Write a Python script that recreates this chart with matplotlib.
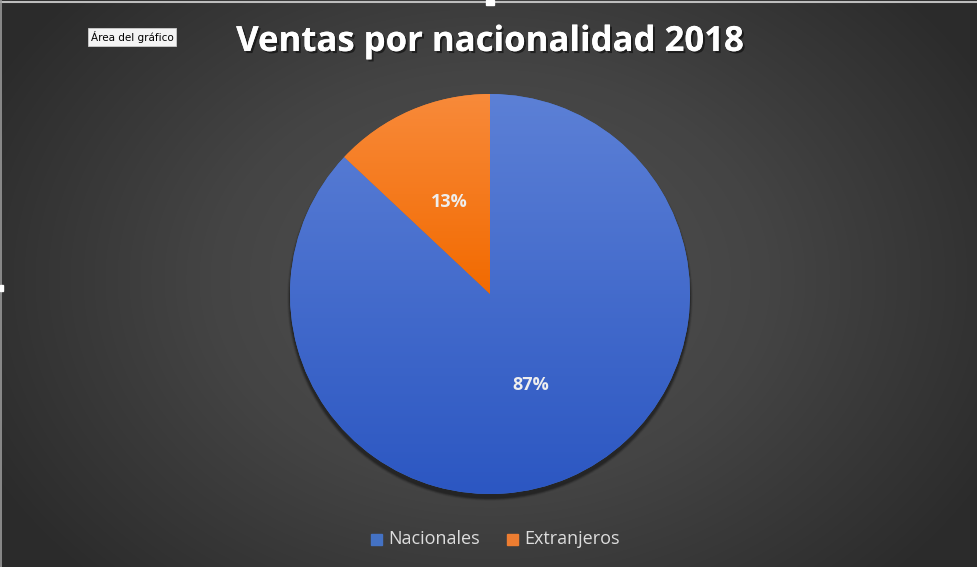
import numpy as np
import matplotlib
matplotlib.use("Agg")
import matplotlib.pyplot as plt
from matplotlib.colors import LinearSegmentedColormap
from matplotlib.patches import Circle, Rectangle
import matplotlib.patheffects as pe

categories = ["Nacionales", "Extranjeros"]
values = [87, 13]
colors_top = ["#5c80d6", "#f88a3a"]
colors_bottom = ["#2c57c2", "#f26a00"]
legend_colors = ["#4472c4", "#ed7d31"]
title = "Ventas por nacionalidad 2018"
tag = "Área del gráfico"

W, H = 978, 567
fig = plt.figure(figsize=(W / 100, H / 100), dpi=100)
ax = fig.add_axes([0, 0, 1, 1])
ax.set_xlim(0, W)
ax.set_ylim(0, H)
ax.axis("off")

# radial gradient background
yy, xx = np.mgrid[0:H, 0:W]
cx, cy = 490, H - 280
d = np.sqrt(((xx - cx) / 560.0) ** 2 + ((yy - cy) / 420.0) ** 2)
d = np.clip(d, 0, 1)
bg_cmap = LinearSegmentedColormap.from_list("bg", ["#525252", "#444444", "#2c2c2c"])
ax.imshow(d, cmap=bg_cmap, extent=[0, W, 0, H], origin="lower", zorder=0, aspect="auto")

# thin frame on top/left and selection handles
ax.plot([0, W], [H - 2, H - 2], color="#bdbdbd", lw=1.5, zorder=1)
ax.plot([1, 1], [0, H], color="#9a9a9a", lw=1.2, zorder=1)
ax.add_patch(Rectangle((486, H - 5), 8, 5, color="white", zorder=2))
ax.add_patch(Rectangle((0, H - 291), 3, 6, color="white", zorder=2))

# pie
pc = (490, H - 294)
r = 200
for k, a in zip(range(6, 0, -1), np.linspace(0.03, 0.14, 6)):
    ax.add_patch(Circle((pc[0], pc[1] - 4), r + k * 0.5, color="black", alpha=a, lw=0, zorder=2))

wedges, _ = ax.pie(values, center=pc, radius=r, startangle=90, counterclock=False,
                   colors=legend_colors, frame=True,
                   wedgeprops=dict(linewidth=0, zorder=3))
ax.set_xlim(0, W)
ax.set_ylim(0, H)
ax.set_aspect("auto")
ax.axis("off")

# vertical gradient fill per wedge, spanning each wedge's own height
grad = np.linspace(1, 0, 200).reshape(-1, 1)
for w, ct, cb in zip(wedges, colors_top, colors_bottom):
    ext = w.get_path().get_extents()
    cm = LinearSegmentedColormap.from_list("g", [cb, ct])
    im = ax.imshow(grad, cmap=cm, extent=[ext.x0, ext.x1, ext.y0, ext.y1],
                   origin="upper", zorder=4, aspect="auto")
    im.set_clip_path(w)

# percentage labels
label_pos = [(531, H - 385), (449, H - 202)]
for v, (x, y) in zip(values, label_pos):
    ax.text(x, y, f"{v}%", color="#eeeeee", fontsize=13, fontweight="bold",
            family="Open Sans", ha="center", va="center", zorder=5)

# title
ax.text(490, H - 42, title, color="white", fontsize=25, fontweight="bold", family="Open Sans",
        ha="center", va="center", zorder=5,
        path_effects=[pe.withSimplePatchShadow(offset=(1.5, -1.5), shadow_rgbFace="black", alpha=0.5), pe.Normal()])

# chart area tag
ax.text(132, H - 37, tag, color="black", fontsize=7.5, family="DejaVu Sans",
        ha="center", va="center", zorder=6,
        bbox=dict(boxstyle="square,pad=0.25", fc="#f4f4f4", ec="#cccccc", lw=0.6))

# legend
leg_x = [376, 512]
for name, c, x in zip(categories, legend_colors, leg_x):
    ax.add_patch(Rectangle((x - 5, H - 545), 11, 11, color=c, zorder=5))
    ax.text(x + 12, H - 539, name, color="#dddddd", fontsize=13, family="Open Sans",
            ha="left", va="center", zorder=5)

fig.savefig("out.png", dpi=100)
